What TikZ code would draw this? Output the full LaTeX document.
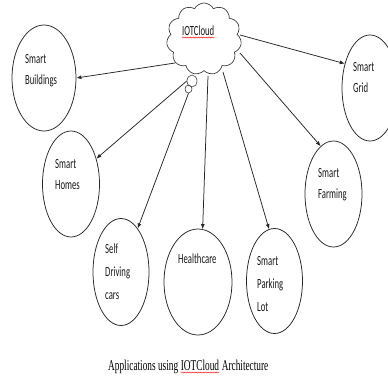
\documentclass[tikz,border=0pt]{standalone}
\usepackage{fontspec}
\newfontfamily\labfont[FakeStretch=0.62]{Carlito}
\newfontfamily\capfont[FakeStretch=0.62]{Liberation Serif}
\usetikzlibrary{shapes.geometric,shapes.symbols,arrows.meta,decorations.pathmorphing,calc}
\begin{document}
\begin{tikzpicture}[x=1bp,y=-1bp,
  bub/.style={draw=black!85, line width=0.75bp, ellipse, inner sep=0pt},
  lab/.style={anchor=base west, inner sep=0pt, font=\labfont\fontsize{14bp}{16bp}\selectfont, text=black!90},
  captxt/.style={anchor=base west, inner sep=0pt, font=\capfont\fontsize{15bp}{17bp}\selectfont, text=black},
  arr/.style={draw=black!85, line width=0.75bp, -{Latex[length=5bp,width=4bp]}},
  squig/.style={draw=red!80, line width=0.4bp, decorate, decoration={snake, amplitude=0.5bp, segment length=1.6bp}}]
\useasboundingbox (0,0) rectangle (388,378);
\fill[white] (0,0) rectangle (388,378);
% cloud
\node[cloud, draw=black!75, line width=0.7bp, cloud puffs=11, cloud puff arc=125, cloud ignores aspect,
      minimum width=75bp, minimum height=72bp, inner sep=0pt] (cloud) at (204,39) {};
\node[draw=black!75, line width=0.6bp, ellipse, minimum width=10bp, minimum height=12bp, inner sep=0pt] (tailA) at (192,81) {};
\node[draw=black!75, line width=0.6bp, ellipse, minimum width=7bp, minimum height=8bp, inner sep=0pt] (tailB) at (188.5,89) {};
\node[lab] (iot) at (182,35) {IOTCloud};
\draw[squig] ([yshift=-2.5bp]iot.base west) -- ([yshift=-2.5bp]iot.base east);
% application ellipses
\node[bub, minimum width=64bp, minimum height=106bp] (bld) at (44,78) {};
\node[bub, minimum width=57bp, minimum height=106bp] (hom) at (71,184) {};
\node[bub, minimum width=56bp, minimum height=107bp] (sdc) at (121,272) {};
\node[bub, minimum width=68bp, minimum height=106bp] (hc) at (198,282) {};
\node[bub, minimum width=56bp, minimum height=105bp] (pl) at (274.5,281) {};
\node[bub, minimum width=57bp, minimum height=106bp] (sf) at (333.5,194) {};
\node[bub, minimum width=56bp, minimum height=106bp] (sg) at (370,88) {};
% labels
\node[lab] (bld1) at (25,63) {Smart};
\node[lab] (bld2) at (25,84) {Buildings};
\node[lab] (hom1) at (55,168) {Smart};
\node[lab] (hom2) at (55,189) {Homes};
\node[lab] (sdc1) at (105,253) {Self};
\node[lab] (sdc2) at (105,276) {Driving};
\node[lab] (sdc3) at (105,299) {cars};
\node[lab] (hc1) at (178,263) {Healthcare};
\node[lab] (pl1) at (257,265) {Smart};
\node[lab] (pl2) at (257,288) {Parking};
\node[lab] (pl3) at (257,311) {Lot};
\node[lab] (sf1) at (318,177) {Smart};
\node[lab] (sf2) at (318,198) {Farming};
\node[lab] (sg1) at (353,71) {Smart};
\node[lab] (sg2) at (353,92) {Grid};
% connectors
\draw[arr] ($(cloud.center)+(-29,24)$) -- (bld.east);
\draw[arr] (tailA.west) -- (hom.45);
\draw[arr] (tailB.south) -- (sdc.69);
\draw[arr] ($(cloud.center)+(4,37)$) -- (hc.85);
\draw[arr] ($(cloud.center)+(19,33)$) -- (pl.96);
\draw[arr] ($(cloud.center)+(36,14)$) -- (sf.105);
\draw[arr] ($(cloud.center)+(36,-4)$) -- (sg.136);
% caption
\node[captxt] (c1) at (108,370) {Applications using};
\node[captxt] (c2) at ([xshift=2.3bp]c1.base east) {IOTCloud};
\node[captxt] (c3) at ([xshift=2.3bp]c2.base east) {Architecture};
\draw[squig] ([yshift=-2.5bp]c2.base west) -- ([yshift=-2.5bp]c2.base east);
\end{tikzpicture}
\end{document}
